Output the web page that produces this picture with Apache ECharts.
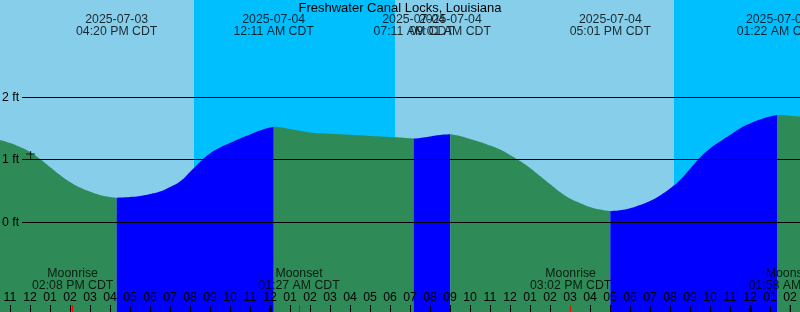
<!DOCTYPE html>
<html>
<head>
<meta charset="utf-8">
<script src="https://cdn.jsdelivr.net/npm/echarts@6/dist/echarts.min.js"></script>
<style>
html,body{margin:0;padding:0;background:#87CEEB;}
#chart{width:800px;height:312px;}
</style>
</head>
<body>
<div id="chart"></div>
<script>
// Time unit: hours since 2025-07-03 11:00 AM CDT
const tideTimes = [-0.5,0,0.5,1,1.5,2,2.5,3,3.5,4,4.5,5,5.333,5.5,6,6.5,7,7.5,8,8.5,9,9.5,10,10.5,11,11.5,12,12.5,13,13.183,13.5,14,14.5,15,15.5,16,16.5,17,17.5,18,18.5,19,19.5,20,20.183,20.5,21,21.5,22.017,22.5,23,23.5,24,24.5,25,25.5,26,26.5,27,27.5,28,28.5,29,29.5,30.017,30.5,31,31.5,32,32.5,33,33.5,34,34.5,35,35.5,36,36.5,37,37.5,38,38.367,38.5,39,39.5];
const tideHeights = [1.317,1.269,1.205,1.125,1.013,0.885,0.757,0.645,0.557,0.493,0.437,0.405,0.392,0.395,0.405,0.421,0.453,0.493,0.565,0.653,0.805,0.965,1.101,1.197,1.269,1.341,1.405,1.469,1.517,1.528,1.522,1.493,1.464,1.437,1.424,1.416,1.408,1.400,1.392,1.381,1.373,1.365,1.357,1.344,1.339,1.349,1.373,1.397,1.408,1.381,1.333,1.285,1.229,1.165,1.077,0.981,0.869,0.741,0.613,0.485,0.381,0.309,0.245,0.205,0.181,0.192,0.224,0.277,0.341,0.429,0.541,0.677,0.853,1.037,1.181,1.293,1.397,1.501,1.581,1.645,1.693,1.717,1.715,1.704,1.690];

const eventTimes = [5.333, 13.183, 20.183, 22.017, 30.017, 38.367];
const eventKinds = ['low', 'high', 'low', 'high', 'low', 'high'];
const eventDates = ['2025-07-03', '2025-07-04', '2025-07-04', '2025-07-04', '2025-07-04', '2025-07-05'];
const eventClock = ['04:20 PM CDT', '12:11 AM CDT', '07:11 AM CDT', '09:01 AM CDT', '05:01 PM CDT', '01:22 AM CDT'];

const moonTimes = [3.133, 14.45, 28.033, 38.967];
const moonNames = ['Moonrise', 'Moonset', 'Moonrise', 'Moonset'];
const moonClock = ['02:08 PM CDT', '01:27 AM CDT', '03:02 PM CDT', '01:58 AM CDT'];

const nightStart = [9.2, 33.2];
const nightEnd = [19.25, 39.5];

const hourTicks = [0,1,2,3,4,5,6,7,8,9,10,11,12,13,14,15,16,17,18,19,20,21,22,23,24,25,26,27,28,29,30,31,32,33,34,35,36,37,38,39];
const hourLabels = ['11','12','01','02','03','04','05','06','07','08','09','10','11','12','01','02','03','04','05','06','07','08','09','10','11','12','01','02','03','04','05','06','07','08','09','10','11','12','01','02'];
const midnightTicks = [13, 37];

const depthTicks = [0, 1, 2];
const depthLabels = ['0 ft', '1 ft', '2 ft'];

const nowMarker = [1.03, 1.07];

const X_MIN = -0.5, X_MAX = 39.5;
const Y_MIN = -1.4352, Y_MAX = 3.5568;
const GRID_START = 0.6;

const FONT = "'Liberation Sans', Arial, sans-serif";
const FS = 12.3;
const RISING = '#0000FF', FALLING = '#2E8B57';

// split tide curve into rising/falling segments at each high/low
const bounds = [X_MIN].concat(eventTimes, [X_MAX]);
const tideSeries = [];
for (let i = 0; i < bounds.length - 1; i++) {
  const a = bounds[i], b = bounds[i + 1];
  const pts = [];
  tideTimes.forEach((t, k) => { if (t >= a - 1e-9 && t <= b + 1e-9) pts.push([t, tideHeights[k]]); });
  const nextKind = i < eventKinds.length ? eventKinds[i] : (eventKinds[eventKinds.length - 1] === 'high' ? 'low' : 'high');
  const color = nextKind === 'high' ? RISING : FALLING;
  tideSeries.push({
    type: 'line',
    data: pts,
    smooth: 0.5,
    showSymbol: false,
    silent: true,
    z: 2,
    lineStyle: { width: 0 },
    areaStyle: { origin: 'start', color: color, opacity: 1 },
    animation: false
  });
}

const baseX = {
  type: 'value', min: X_MIN, max: X_MAX, position: 'bottom', z: 10,
  axisLine: { show: false, onZero: false }, splitLine: { show: false }
};

const option = {
  backgroundColor: '#87CEEB',
  animation: false,
  textStyle: { fontFamily: FONT },
  title: {
    text: 'Freshwater Canal Locks, Louisiana',
    left: 'center', top: 1, padding: 0,
    textStyle: { fontSize: 13, fontWeight: 'normal', color: '#000', fontFamily: FONT, lineHeight: 14 }
  },
  grid: { left: 0, right: 0, top: 0, bottom: 0, containLabel: false, outerBoundsMode: 'none' },
  xAxis: [
    Object.assign({}, baseX, {
      axisTick: { show: true, inside: true, length: 7, customValues: hourTicks, lineStyle: { color: '#000', width: 1 } },
      axisLabel: {
        show: true, inside: true, margin: 8, customValues: hourTicks,
        color: '#000', fontSize: FS, fontFamily: FONT,
        formatter: v => hourLabels[hourTicks.indexOf(Math.round(v))]
      }
    }),
    Object.assign({}, baseX, {
      axisTick: { show: true, inside: true, length: 7, customValues: midnightTicks, lineStyle: { color: '#000', width: 3 } },
      axisLabel: { show: false }
    }),
    Object.assign({}, baseX, {
      axisTick: { show: true, inside: true, length: 7, customValues: moonTimes, lineStyle: { color: '#FF0000', width: 1 } },
      axisLabel: { show: false }
    })
  ],
  yAxis: {
    type: 'value', min: Y_MIN, max: Y_MAX, position: 'left', z: 10,
    axisLine: { show: false, onZero: false }, axisTick: { show: false }, splitLine: { show: false },
    axisLabel: {
      show: true, inside: true, margin: 2, customValues: depthTicks,
      color: '#000', fontSize: FS, fontFamily: FONT,
      formatter: v => depthLabels[depthTicks.indexOf(Math.round(v))]
    }
  },
  series: [
    {
      type: 'custom', z: 1, silent: true,
      data: nightStart.map((s, i) => [s, nightEnd[i]]),
      renderItem: (params, api) => {
        const p1 = api.coord([api.value(0), Y_MAX]);
        const p2 = api.coord([api.value(1), Y_MIN]);
        return { type: 'rect', shape: { x: p1[0], y: p1[1], width: p2[0] - p1[0], height: p2[1] - p1[1] }, style: { fill: '#00BFFF' } };
      }
    }
  ].concat(tideSeries, [
    {
      type: 'custom', z: 3, silent: true,
      data: depthTicks.map(v => [GRID_START, v]),
      renderItem: (params, api) => {
        const p1 = api.coord([api.value(0), api.value(1)]);
        const p2 = api.coord([X_MAX, api.value(1)]);
        const y = Math.floor(p1[1]) + 0.5;
        return { type: 'line', shape: { x1: Math.round(p1[0]), y1: y, x2: p2[0], y2: y }, style: { stroke: '#000', lineWidth: 1 } };
      }
    },
    {
      type: 'scatter', z: 5, silent: true, symbolSize: 0,
      data: eventTimes.map(t => [t, Y_MAX]),
      label: {
        show: true, position: 'inside', offset: [0, 25.5],
        color: '#000', fontSize: FS, lineHeight: 12.4, fontFamily: FONT, align: 'center',
        formatter: p => eventDates[p.dataIndex] + '\n' + eventClock[p.dataIndex]
      }
    },
    {
      type: 'scatter', z: 5, silent: true, symbolSize: 0,
      data: moonTimes.map(t => [t, Y_MIN]),
      label: {
        show: true, position: 'inside', offset: [0, -32.5],
        color: '#000', fontSize: FS, lineHeight: 11.6, fontFamily: FONT, align: 'center',
        formatter: p => moonNames[p.dataIndex] + '\n' + moonClock[p.dataIndex]
      }
    },
    {
      type: 'scatter', z: 5, silent: true,
      symbol: 'path://M0,2.5H9V3.5H0Z M4,0H5V9H4Z',
      symbolSize: 9,
      itemStyle: { color: '#000' },
      data: [nowMarker]
    }
  ])
};

const chart = echarts.init(document.getElementById('chart'), null, { renderer: 'canvas' });
chart.setOption(option);
</script>
</body>
</html>
